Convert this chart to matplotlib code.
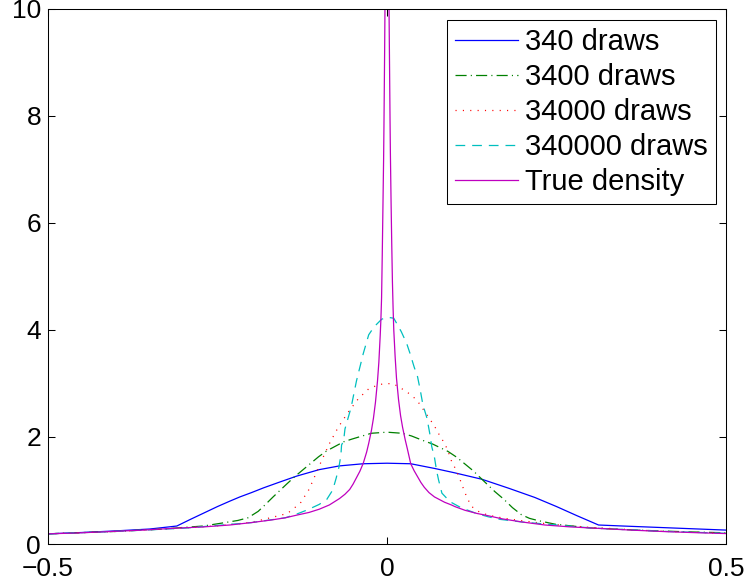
import matplotlib
matplotlib.use("Agg")
import matplotlib.pyplot as plt

plt.rcParams['font.family'] = ['Liberation Sans', 'DejaVu Sans']
plt.rcParams['lines.scale_dashes'] = False

# 340 draws
blue_x = [-0.5, -0.45, -0.4, -0.35, -0.31, -0.29, -0.27, -0.25, -0.232, -0.217, -0.2, -0.182, -0.16, -0.133, -0.1,
          -0.07, -0.035, 0, 0.035, 0.071, 0.1, 0.14, 0.18, 0.218, 0.25, 0.28, 0.312, 0.35, 0.4, 0.45, 0.5]
blue_y = [0.19, 0.215, 0.245, 0.28, 0.336, 0.46, 0.58, 0.70, 0.80, 0.88, 0.96, 1.05, 1.15, 1.27, 1.39,
          1.46, 1.50, 1.51, 1.50, 1.41, 1.33, 1.21, 1.04, 0.87, 0.70, 0.53, 0.355, 0.335, 0.31, 0.285, 0.26]

# 3400 draws
green_x = [-0.5, -0.4, -0.33, -0.3, -0.271, -0.244, -0.22, -0.205, -0.19, -0.18, -0.168, -0.148, -0.136, -0.101,
           -0.089, -0.064, -0.052, -0.023, 0, 0.022, 0.036, 0.052, 0.067, 0.09, 0.103, 0.127, 0.14, 0.159, 0.172,
           0.185, 0.198, 0.21, 0.222, 0.248, 0.263, 0.285, 0.3, 0.35, 0.4, 0.45, 0.5]
green_y = [0.19, 0.235, 0.28, 0.31, 0.336, 0.39, 0.44, 0.49, 0.61, 0.73, 0.88, 1.12, 1.26, 1.63,
           1.74, 1.91, 1.96, 2.07, 2.09, 2.07, 2.02, 1.94, 1.87, 1.73, 1.62, 1.37, 1.21, 0.98, 0.84,
           0.68, 0.55, 0.48, 0.44, 0.37, 0.35, 0.32, 0.30, 0.27, 0.245, 0.225, 0.21]

# 34000 draws
red_x = [-0.5, -0.4, -0.3, -0.25, -0.217, -0.195, -0.172, -0.147, -0.128, -0.115, -0.105, -0.095, -0.084, -0.072,
         -0.058, -0.042, -0.027, -0.012, 0, 0.01, 0.021, 0.034, 0.044, 0.05, 0.065, 0.072, 0.078, 0.085, 0.09,
         0.094, 0.1, 0.105, 0.11, 0.114, 0.119, 0.125, 0.136, 0.149, 0.173, 0.196, 0.221, 0.25, 0.3, 0.4, 0.5]
red_y = [0.19, 0.235, 0.30, 0.34, 0.38, 0.42, 0.49, 0.57, 0.76, 1.02, 1.31, 1.60, 1.90, 2.18,
         2.45, 2.72, 2.90, 2.98, 3.0, 2.99, 2.91, 2.80, 2.69, 2.58, 2.30, 2.16, 2.02, 1.88, 1.74,
         1.58, 1.43, 1.29, 1.13, 0.99, 0.84, 0.70, 0.60, 0.54, 0.48, 0.44, 0.40, 0.36, 0.31, 0.24, 0.2]

# 340000 draws
cyan_x = [-0.5, -0.4, -0.3, -0.2, -0.15, -0.133, -0.117, -0.1, -0.089, -0.08, -0.075, -0.071, -0.068, -0.067,
          -0.064, -0.062, -0.053, -0.045, -0.035, -0.027, -0.019, -0.008, 0, 0.01, 0.021, 0.029, 0.034, 0.04,
          0.045, 0.049, 0.053, 0.059, 0.063, 0.066, 0.07, 0.073, 0.076, 0.081, 0.093, 0.109, 0.132, 0.149,
          0.167, 0.2, 0.3, 0.4, 0.5]
cyan_y = [0.19, 0.235, 0.295, 0.40, 0.49, 0.56, 0.64, 0.74, 0.83, 1.01, 1.23, 1.43, 1.66, 1.85,
          1.93, 2.15, 2.55, 3.05, 3.56, 3.91, 4.06, 4.20, 4.24, 4.22, 3.97, 3.75, 3.56, 3.31,
          3.13, 2.88, 2.60, 2.35, 2.07, 1.82, 1.62, 1.38, 1.20, 0.95, 0.79, 0.68, 0.57, 0.51,
          0.46, 0.41, 0.30, 0.24, 0.2]

# true density
true_x = [-0.5, -0.46, -0.413, -0.36, -0.315, -0.27, -0.232, -0.2, -0.17, -0.15, -0.133, -0.115, -0.1, -0.085,
          -0.07, -0.062, -0.055, -0.05, -0.045, -0.04, -0.035, -0.03, -0.027, -0.023, -0.02, -0.017, -0.014,
          -0.012, -0.01, -0.009, -0.008, -0.007, -0.006, -0.005, -0.0045, -0.004, -0.0035, -0.003, -0.002, 0,
          0.002, 0.003, 0.0035, 0.004, 0.0045, 0.005, 0.006, 0.007, 0.008, 0.009, 0.01, 0.012, 0.014, 0.017,
          0.02, 0.023, 0.027, 0.03, 0.035, 0.04, 0.045, 0.05, 0.055, 0.062, 0.07, 0.085, 0.095, 0.1, 0.115,
          0.133, 0.145, 0.17, 0.2, 0.233, 0.27, 0.315, 0.36, 0.413, 0.46, 0.5]
true_y = [0.19, 0.205, 0.23, 0.26, 0.293, 0.32, 0.355, 0.40, 0.45, 0.49, 0.54, 0.59, 0.65, 0.73,
          0.85, 0.93, 1.02, 1.12, 1.24, 1.36, 1.51, 1.72, 1.88, 2.12, 2.35, 2.65, 3.05,
          3.4, 3.9, 4.2, 4.6, 5.4, 6.3, 7.2, 7.8, 8.5, 9.2, 10.0, 12.0, 40.0,
          12.0, 10.0, 9.3, 8.6, 7.9, 7.3, 6.4, 5.6, 4.9, 4.4, 4.0, 3.5, 3.1, 2.7,
          2.4, 2.18, 1.94, 1.78, 1.50, 1.37, 1.26, 1.15, 1.06, 0.96, 0.88, 0.78, 0.73, 0.70, 0.63,
          0.57, 0.54, 0.47, 0.41, 0.355, 0.32, 0.29, 0.26, 0.23, 0.21, 0.195]

x_ticks = [-0.5, 0, 0.5]
x_tick_labels = ['\u22120.5', '0', '0.5']
y_ticks = [0, 2, 4, 6, 8, 10]
y_tick_labels = ['0', '2', '4', '6', '8', '10']

fig = plt.figure(figsize=(7.48, 5.87), dpi=100)
ax = fig.add_axes([48 / 748, 43 / 587, 678 / 748, 535 / 587])

lw = 0.9
ax.plot(blue_x, blue_y, color=(0, 0, 1), lw=lw, label="340 draws")
ax.plot(green_x, green_y, color=(0, 0.5, 0), lw=lw, dashes=(8, 3, 0.8, 3), label="3400 draws")
ax.plot(red_x, red_y, color=(1, 0, 0), lw=lw, dashes=(0.8, 4.5), label="34000 draws")
ax.plot(cyan_x, cyan_y, color=(0, 0.75, 0.75), lw=lw, dashes=(7, 5), label="340000 draws")
ax.plot(true_x, true_y, color=(0.75, 0, 0.75), lw=lw, label="True density")

ax.set_xlim(-0.5, 0.5)
ax.set_ylim(0, 10)
ax.set_xticks(x_ticks)
ax.set_xticklabels(x_tick_labels)
ax.set_yticks(y_ticks)
ax.set_yticklabels(y_tick_labels)
ax.tick_params(direction='in', length=5, width=0.75, top=True, right=True, labelsize=19, colors='black')
ax.tick_params(axis='x', pad=9)
ax.tick_params(axis='y', pad=5)
for s in ax.spines.values():
    s.set_linewidth(0.75)

leg = ax.legend(loc='upper right', bbox_to_anchor=(716 / 748, 1 - 20 / 587), bbox_transform=fig.transFigure,
                borderaxespad=0, fontsize=21, handlelength=2.15, handletextpad=0.24, labelspacing=0.24,
                borderpad=0.28, fancybox=False, framealpha=1, edgecolor='black')
leg.get_frame().set_linewidth(0.75)

fig.savefig("out.png", dpi=100)
